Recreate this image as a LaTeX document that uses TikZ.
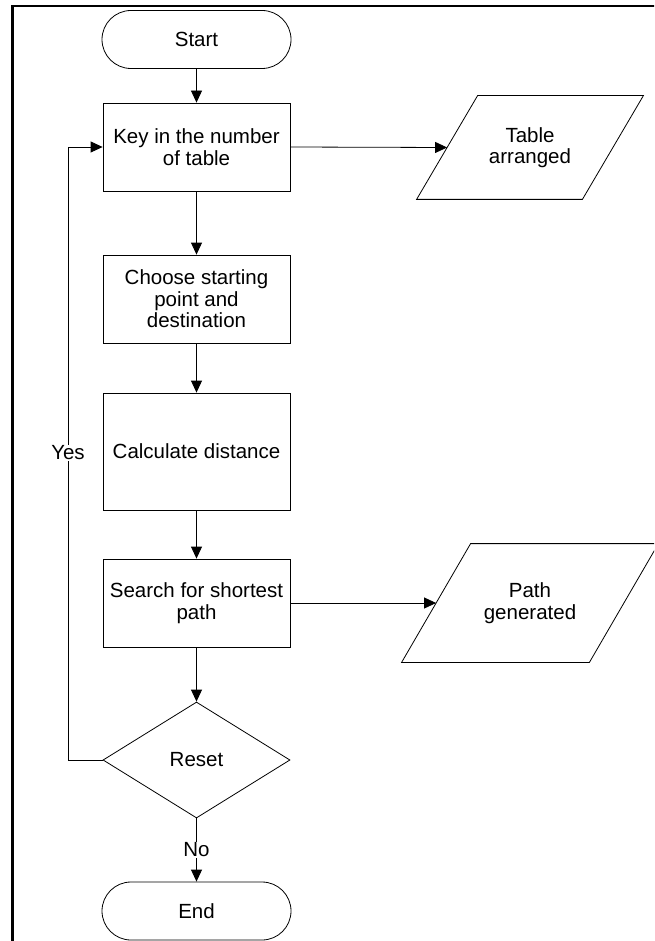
\documentclass[tikz,border=0pt]{standalone}
\usepackage{fontspec}
\setmainfont{Liberation Sans}
\usetikzlibrary{shapes.geometric,arrows.meta,calc}

\begin{document}
\begin{tikzpicture}[x=1pt,y=-1pt,line width=0.8pt,
  font=\fontsize{20.5}{21.5}\selectfont,
  box/.style={draw,rectangle,minimum width=187pt,align=center,inner sep=0pt},
  term/.style={draw,rectangle,rounded corners=29pt,minimum width=189pt,minimum height=58pt,inner sep=0pt},
  io/.style={draw=none,align=center,inner sep=0pt},
  arr/.style={-{Triangle[length=12pt,width=11pt]}},
  lbl/.style={fill=white,inner sep=1pt}]

\useasboundingbox (0,0) rectangle (654,941);
\clip (0,0) rectangle (654,941);

% outer frame
\draw[line width=2.5pt] (12.5,980) -- (12.5,6) -- (700,6);

% main column
\node[term] (start) at (196.5,39.5) {Start};
\node[box,minimum height=88pt] (key) at (196.5,147) {Key in the number\\of table};
\node[box,minimum height=88pt] (choose) at (196.5,299) {Choose starting\\point and\\destination};
\node[box,minimum height=117pt] (calc) at (196.5,451.5) {Calculate distance};
\node[box,minimum height=88pt] (search) at (196.5,603) {Search for shortest\\path};
\node[diamond,draw,minimum width=187pt,minimum height=116pt,inner sep=0pt] (reset) at (196.5,760) {Reset};
\node[term] (end) at (196.5,911) {End};

% outputs (parallelograms)
\node[io,minimum width=226pt,minimum height=103pt] (tab) at (530,147.5) {Table\\arranged};
\draw ([xshift=61pt]tab.north west) -- (tab.north east) -- ([xshift=-61pt]tab.south east) -- (tab.south west) -- cycle;
\coordinate (tabin) at ($(tab.south west)!0.5!([xshift=61pt]tab.north west)$);

\node[io,minimum width=256pt,minimum height=118pt] (path) at (530,603) {Path\\generated};
\draw ([xshift=69pt]path.north west) -- (path.north east) -- ([xshift=-69pt]path.south east) -- (path.south west) -- cycle;
\coordinate (pathin) at ($(path.south west)!0.5!([xshift=69pt]path.north west)$);

% connectors
\draw[arr] (start) -- (key);
\draw[arr] (key) -- (choose);
\draw[arr] (choose) -- (calc);
\draw[arr] (calc) -- (search);
\draw[arr] (search) -- (reset);
\draw[arr] (reset) -- node[lbl] (no) {No} (end);
\draw[arr] (key.east) -- (tabin);
\draw[arr] (search.east) -- (pathin);

\coordinate (loop) at (68,760);
\draw[arr] (reset.west) -- (loop) |- (key.west);
\node[lbl] (yes) at (68,453) {Yes};
\end{tikzpicture}
\end{document}
